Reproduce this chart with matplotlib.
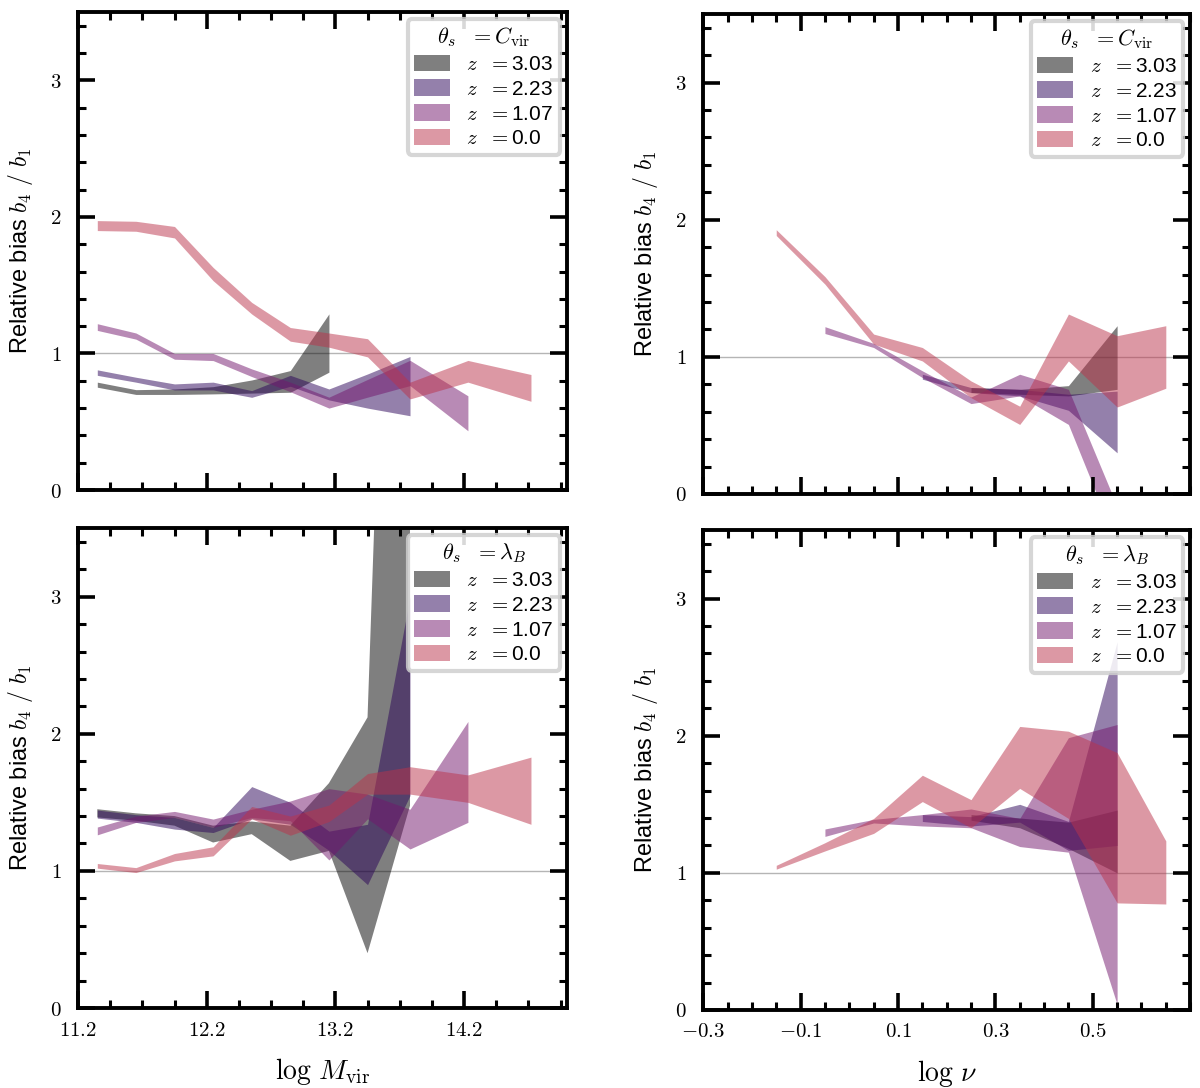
import numpy as np
import matplotlib
matplotlib.use("Agg")
import matplotlib.pyplot as plt
from matplotlib.ticker import AutoMinorLocator, FuncFormatter, FixedLocator

plt.rcParams['font.family'] = ['Liberation Sans', 'DejaVu Sans']
plt.rcParams['mathtext.fontset'] = 'cm'

# --- data: bands (lo/hi) of relative bias b4/b1 ---
mvir_x = [11.35, 11.65, 11.95, 12.25, 12.55, 12.85, 13.15, 13.45, 13.78, 14.23, 14.72]
nu_x = [-0.15, -0.05, 0.05, 0.15, 0.25, 0.35, 0.45, 0.55, 0.65]

z_labels = ['3.03', '2.23', '1.07', '0.0']
z_colors = ['#000000', '#2a0258', '#73166d', '#bb334b']

# theta_s = C_vir, vs log M_vir
cvir_m_x = [mvir_x[:7], mvir_x[:9], mvir_x[:10], mvir_x]
cvir_m_hi = [[0.79, 0.735, 0.74, 0.757, 0.806, 0.875, 1.29],
             [0.88, 0.826, 0.777, 0.79, 0.728, 0.84, 0.74, 0.85, 0.978],
             [1.218, 1.15, 1.0, 1.0, 0.887, 0.79, 0.68, 0.81, 0.95, 0.69],
             [1.973, 1.968, 1.93, 1.63, 1.374, 1.19, 1.15, 1.108, 0.79, 0.949, 0.846]]
cvir_m_lo = [[0.753, 0.70, 0.70, 0.704, 0.71, 0.716, 0.863],
             [0.84, 0.79, 0.733, 0.733, 0.679, 0.76, 0.66, 0.60, 0.544],
             [1.169, 1.105, 0.958, 0.948, 0.831, 0.72, 0.60, 0.68, 0.765, 0.434],
             [1.90, 1.895, 1.846, 1.533, 1.289, 1.09, 1.046, 0.975, 0.667, 0.79, 0.65]]

# theta_s = C_vir, vs log nu
cvir_n_x = [nu_x[4:8], nu_x[3:8], nu_x[1:8], nu_x]
cvir_n_hi = [[0.776, 0.763, 0.79, 1.227],
             [0.873, 0.776, 0.763, 0.727, 0.75],
             [1.22, 1.098, 0.898, 0.707, 0.873, 0.763, -0.09],
             [1.927, 1.585, 1.166, 1.068, 0.824, 0.64, 1.312, 1.154, 1.227]]
cvir_n_lo = [[0.74, 0.727, 0.715, 0.763],
             [0.837, 0.739, 0.715, 0.61, 0.30],
             [1.17, 1.068, 0.849, 0.659, 0.715, 0.507, -0.37],
             [1.885, 1.53, 1.093, 0.97, 0.702, 0.507, 0.97, 0.634, 0.771]]

# theta_s = lambda_B, vs log M_vir
lamb_m_x = [mvir_x[:9], mvir_x[:9], mvir_x[:10], mvir_x]
lamb_m_hi = [[1.45, 1.42, 1.40, 1.33, 1.36, 1.33, 1.64, 2.12, 11.0],
             [1.444, 1.41, 1.39, 1.317, 1.615, 1.50, 1.29, 1.34, 3.0],
             [1.32, 1.40, 1.434, 1.378, 1.45, 1.51, 1.60, 1.56, 1.45, 2.09],
             [1.054, 1.024, 1.127, 1.176, 1.47, 1.40, 1.48, 1.71, 1.76, 1.70, 1.83]]
lamb_m_lo = [[1.39, 1.366, 1.33, 1.207, 1.268, 1.073, 1.146, 0.40, 1.476],
             [1.385, 1.354, 1.305, 1.28, 1.38, 1.34, 1.15, 0.90, 1.55],
             [1.263, 1.354, 1.39, 1.317, 1.39, 1.366, 1.08, 1.38, 1.16, 1.354],
             [1.02, 0.988, 1.073, 1.11, 1.38, 1.26, 1.36, 1.56, 1.56, 1.50, 1.34]]

# theta_s = lambda_B, vs log nu
lamb_n_x = [nu_x[4:8], nu_x[3:8], nu_x[1:8], nu_x]
lamb_n_hi = [[1.425, 1.40, 1.37, 1.458],
             [1.425, 1.41, 1.50, 1.375, 2.685],
             [1.32, 1.39, 1.425, 1.466, 1.397, 1.986, 2.082],
             [1.055, 1.22, 1.397, 1.712, 1.534, 2.068, 2.033, 1.877, 1.233]]
lamb_n_lo = [[1.384, 1.329, 1.178, 1.0],
             [1.375, 1.342, 1.37, 1.164, 1.2],
             [1.266, 1.364, 1.342, 1.329, 1.192, 1.151, 0.04],
             [1.027, 1.16, 1.288, 1.52, 1.329, 1.616, 1.397, 0.781, 0.773]]

fig = plt.figure(figsize=(12, 10.88), dpi=100)
ax_tl = fig.add_axes([0.065, 0.5496, 0.4075, 0.4393])
ax_tr = fig.add_axes([0.586, 0.5460, 0.4058, 0.4411])
ax_bl = fig.add_axes([0.065, 0.0735, 0.4075, 0.4411])
ax_br = fig.add_axes([0.586, 0.0717, 0.4058, 0.4411])

math_fmt = FuncFormatter(lambda v, p: r'$%g$' % round(v, 2))


def style_axis(ax, kind, show_x):
    ax.set_ylim(0, 3.5)
    if kind == 'mass':
        ax.set_xlim(11.2, 15.0)
        ax.xaxis.set_major_locator(FixedLocator([11.2, 12.2, 13.2, 14.2]))
        ax.xaxis.set_minor_locator(FixedLocator(np.arange(11.2, 15.01, 0.25)))
    else:
        ax.set_xlim(-0.3, 0.7)
        ax.xaxis.set_major_locator(FixedLocator([-0.3, -0.1, 0.1, 0.3, 0.5]))
        ax.xaxis.set_minor_locator(FixedLocator(np.arange(-0.3, 0.701, 0.05)))
    ax.set_yticks([0, 1, 2, 3])
    ax.yaxis.set_minor_locator(AutoMinorLocator(5))
    ax.xaxis.set_major_formatter(math_fmt)
    ax.yaxis.set_major_formatter(math_fmt)
    ax.tick_params(which='both', direction='in', top=True, right=True)
    ax.tick_params(which='major', length=12, width=2.6, labelsize=15, pad=12)
    ax.tick_params(which='minor', length=6, width=2.2)
    ax.tick_params(axis='x', which='major', pad=9)
    if not show_x:
        ax.tick_params(axis='x', labelbottom=False)
    for sp in ax.spines.values():
        sp.set_linewidth(2.8)
    ax.axhline(1, color='#b5b5b5', lw=1.0, zorder=0)
    ax.set_ylabel(r'Relative bias $b_4\ /\ b_1$', fontsize=17)
    ax.yaxis.set_label_coords(-0.088, 0.5)


def draw_bands(ax, xs, his, los, title):
    for x, hi, lo, lab, col in zip(xs, his, los, z_labels, z_colors):
        ax.fill_between(x, lo, hi, color=col, alpha=0.5, lw=0,
                        label=r'$z\ \ {=}$' + lab)
    leg = ax.legend(loc='upper right', title=title, fontsize=15,
                    title_fontsize=16, handlelength=1.7, handleheight=0.85,
                    labelspacing=0.25, borderpad=0.3, borderaxespad=0.35,
                    handletextpad=0.8, framealpha=0.85, fancybox=True,
                    edgecolor='#cfcfcf')
    leg.get_frame().set_linewidth(3)


draw_bands(ax_tl, cvir_m_x, cvir_m_hi, cvir_m_lo, r'$\theta_s\ \ {=}C_{\rm vir}$')
draw_bands(ax_tr, cvir_n_x, cvir_n_hi, cvir_n_lo, r'$\theta_s\ \ {=}C_{\rm vir}$')
draw_bands(ax_bl, lamb_m_x, lamb_m_hi, lamb_m_lo, r'$\theta_s\ \ {=}\lambda_B$')
draw_bands(ax_br, lamb_n_x, lamb_n_hi, lamb_n_lo, r'$\theta_s\ \ {=}\lambda_B$')

style_axis(ax_tl, 'mass', False)
style_axis(ax_tr, 'nu', False)
style_axis(ax_bl, 'mass', True)
style_axis(ax_br, 'nu', True)

ax_bl.set_xlabel(r'$\log\,M_{\rm vir}$', fontsize=20, labelpad=12)
ax_br.set_xlabel(r'$\log\,\nu$', fontsize=20, labelpad=12)

fig.savefig('out.png', dpi=100)
